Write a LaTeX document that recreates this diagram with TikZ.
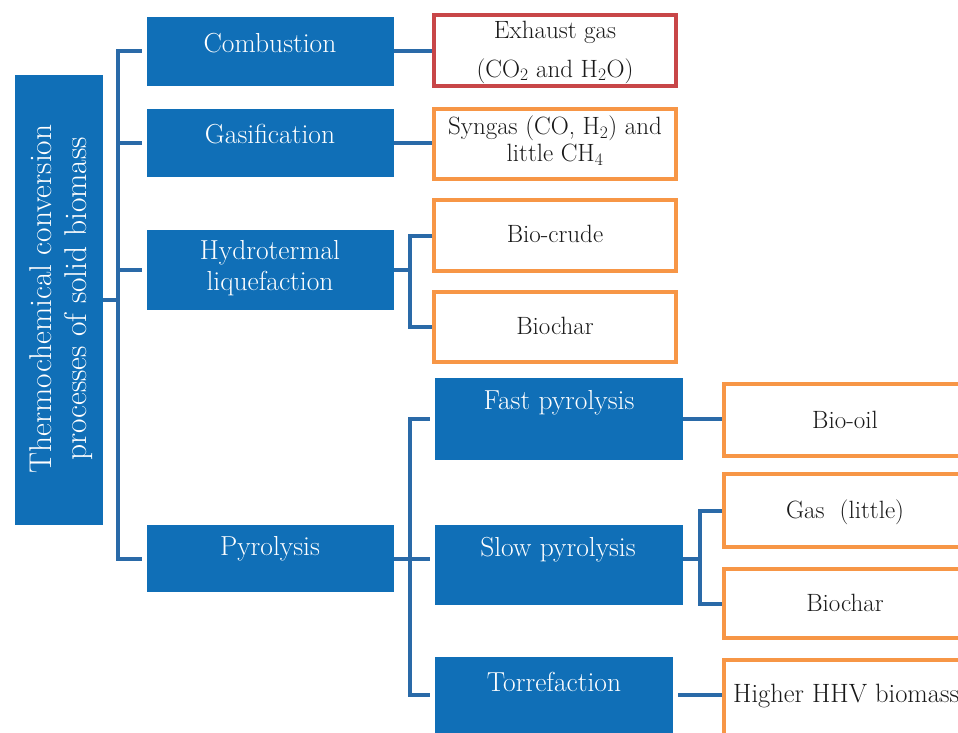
\documentclass[tikz,border=0pt]{standalone}
\usepackage{tikz}
\definecolor{boxblue}{RGB}{16,111,183}
\definecolor{lineblue}{RGB}{42,106,168}
\definecolor{orangeC}{RGB}{247,150,70}
\definecolor{redC}{RGB}{200,70,72}
\tikzset{
  bluebox/.style={rectangle, fill=boxblue, draw=none, inner sep=0pt},
  outbox/.style={rectangle, draw=orangeC, line width=3.5pt, fill=white, inner sep=0pt},
  redbox/.style={outbox, draw=redC},
  conn/.style={draw=lineblue, line width=4pt},
  wtxt/.style={text=white, align=center, inner sep=0pt, font=\fontsize{27.5}{31}\selectfont},
  btxt/.style={text=black!90, align=center, inner sep=0pt, font=\fontsize{25}{29}\selectfont},
}
\begin{document}
\begin{tikzpicture}[x=1pt,y=-1pt]
\useasboundingbox (0,0) rectangle (958,733);
% level 0
\node[bluebox, minimum width=88, minimum height=450] (root) at (59,300) {};
\node[text=white, align=center, inner sep=0pt, rotate=90, font=\fontsize{31.5}{35}\selectfont] (roott) at (61,299) {Thermochemical conversion\\processes of solid biomass};
% level 1
\node[bluebox, minimum width=247, minimum height=69] (comb) at (270.5,51.5) {};
\node[bluebox, minimum width=247, minimum height=68] (gas) at (270.5,143) {};
\node[bluebox, minimum width=247, minimum height=80] (htl) at (270.5,270) {};
\node[bluebox, minimum width=247, minimum height=67] (pyr) at (270.5,558.5) {};
\node[wtxt] (combt) at (270,43) {Combustion};
\node[wtxt] (gast) at (270,134) {Gasification};
\node[wtxt] (htlt) at (270,268) {Hydrotermal\\liquefaction};
\node[wtxt] (pyrt) at (270,549) {Pyrolysis};
% level 2 pyrolysis
\node[bluebox, minimum width=248, minimum height=82] (fast) at (559,419) {};
\node[bluebox, minimum width=248, minimum height=80] (slow) at (559,565) {};
\node[bluebox, minimum width=238, minimum height=76] (torr) at (554,695) {};
\node[wtxt] (fastt) at (559,403) {Fast pyrolysis};
\node[wtxt] (slowt) at (558,550) {Slow pyrolysis};
\node[wtxt] (torrt) at (554,682) {Torrefaction};
% outputs
\node[redbox, minimum width=242, minimum height=71] (exh) at (555,50.5) {};
\node[btxt, font=\fontsize{25}{39}\selectfont] (exht) at (555,52) {Exhaust gas\\(CO\textsubscript{2} and H\textsubscript{2}O)};
\node[outbox, minimum width=242, minimum height=70] (syn) at (555,144) {};
\node[btxt, font=\fontsize{25}{27}\selectfont] (synt) at (555,141) {Syngas (CO, H\textsubscript{2}) and\\little CH\textsubscript{4}};
\node[outbox, minimum width=242, minimum height=71] (bcr) at (555,235.5) {};
\node[btxt] (bcrt) at (555,234) {Bio-crude};
\node[outbox, minimum width=242, minimum height=70] (bch) at (555,327) {};
\node[btxt] (bcht) at (555,326) {Biochar};
\node[outbox, minimum width=242, minimum height=72] (boil) at (845,420) {};
\node[btxt] (boilt) at (845,420) {Bio-oil};
\node[outbox, minimum width=242, minimum height=73] (gasl) at (845,510.5) {};
\node[btxt] (gaslt) at (845,512) {Gas\ \ (little)};
\node[outbox, minimum width=242, minimum height=69] (bch2) at (845,603.5) {};
\node[btxt] (bch2t) at (845,603) {Biochar};
\node[outbox, minimum width=242, minimum height=80] (hhv) at (845,700) {};
\node[btxt, anchor=west, font=\fontsize{26.5}{30}\selectfont] (hhvt) at (733,696) {Higher HHV biomass};
% connectors level 0-1
\coordinate (tr) at (118,0);
\draw[conn] (root.east) -- (root.east -| tr);
\draw[conn] ([xshift=-5pt]comb.west) -- (comb.west -| tr) -- (pyr.west -| tr) -- ([xshift=-5pt]pyr.west);
\draw[conn] (gas.west -| tr) -- ([xshift=-5pt]gas.west);
\draw[conn] (htl.west -| tr) -- ([xshift=-5pt]htl.west);
% level 1 to outputs
\draw[conn] (comb.east) -- (comb.east -| exh.west);
\draw[conn] (gas.east) -- (gas.east -| syn.west);
\coordinate (v1) at (410,0);
\draw[conn] (htl.east) -- (htl.east -| v1);
\draw[conn] (bcr.west) -- (bcr.west -| v1) -- (bch.west -| v1) -- (bch.west);
% pyrolysis
\coordinate (v2) at (410,0);
\draw[conn] (pyr.east) -- ([xshift=-5pt]pyr.east -| slow.west);
\draw[conn] ([xshift=-5pt]fast.west) -- (fast.west -| v2) -- (torr.west -| v2) -- ([xshift=-5pt]torr.west);
\draw[conn] (fast.east) -- (fast.east -| boil.west);
\coordinate (v3) at (700,0);
\draw[conn] (pyr.east -| slow.east) -- (pyr.east -| v3);
\draw[conn] (gasl.west) -- (gasl.west -| v3) -- (bch2.west -| v3) -- (bch2.west);
\draw[conn, shorten <=5pt] (torr.east) -- (torr.east -| hhv.west);
\end{tikzpicture}
\end{document}
